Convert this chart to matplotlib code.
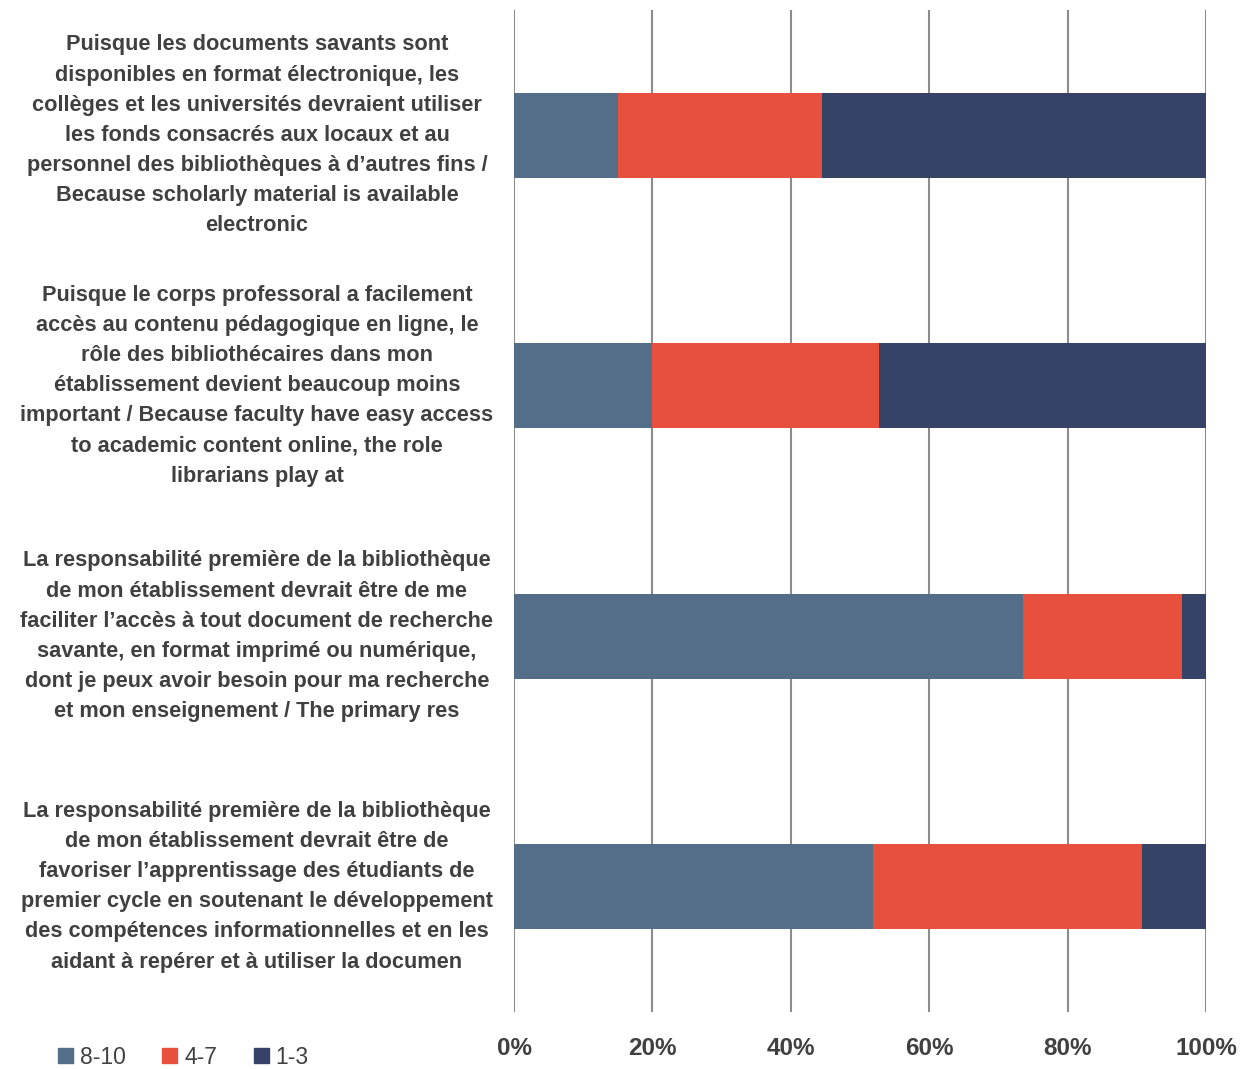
import matplotlib.pyplot as plt
from matplotlib.transforms import blended_transform_factory
from matplotlib.patches import Patch

plt.rcParams['font.family'] = ['Liberation Sans', 'DejaVu Sans']

# Data
categories = [
    "Puisque les documents savants sont\ndisponibles en format électronique, les\ncollèges et les universités devraient utiliser\nles fonds consacrés aux locaux et au\npersonnel des bibliothèques à d’autres fins /\nBecause scholarly material is available\nelectronic",
    "Puisque le corps professoral a facilement\naccès au contenu pédagogique en ligne, le\nrôle des bibliothécaires dans mon\nétablissement devient beaucoup moins\nimportant / Because faculty have easy access\nto academic content online, the role\nlibrarians play at",
    "La responsabilité première de la bibliothèque\nde mon établissement devrait être de me\nfaciliter l’accès à tout document de recherche\nsavante, en format imprimé ou numérique,\ndont je peux avoir besoin pour ma recherche\net mon enseignement / The primary res",
    "La responsabilité première de la bibliothèque\nde mon établissement devrait être de\nfavoriser l’apprentissage des étudiants de\npremier cycle en soutenant le développement\ndes compétences informationnelles et en les\naidant à repérer et à utiliser la documen",
]
series_names = ['8-10', '4-7', '1-3']
high = [15.0, 19.9, 73.6, 51.9]
mid = [29.5, 32.8, 22.9, 38.9]
low = [55.5, 47.3, 3.5, 9.2]
colors = ['#546E8A', '#E8503E', '#364266']
xticks = [0, 20, 40, 60, 80, 100]

fig = plt.figure(figsize=(12.48, 10.69), dpi=100)
ax = fig.add_axes([514 / 1248, 1 - 1012 / 1069, (1206 - 514) / 1248, 1002 / 1069])

y = list(range(len(categories)))
left = [0] * len(y)
for vals, col, name in zip([high, mid, low], colors, series_names):
    ax.barh(y, vals, left=left, height=0.34, color=col, label=name, zorder=3)
    left = [a + b for a, b in zip(left, vals)]

ax.set_xlim(0, 100)
ax.set_ylim(3.5, -0.5)
ax.set_xticks(xticks)
ax.set_xticklabels([f"{t}%" for t in xticks], fontsize=17.5, fontweight='bold', color='#404040')
ax.tick_params(axis='x', length=0, pad=18)
ax.set_yticks([])
ax.grid(axis='x', color='#8C8C8C', linewidth=1.5, zorder=0)
for s in ax.spines.values():
    s.set_visible(False)

trans = blended_transform_factory(fig.transFigure, ax.transData)
for i, lab in enumerate(categories):
    ax.text(257 / 1248, i, lab, transform=trans, ha='center', va='center',
            fontsize=15.7, fontweight='bold', color='#404040', linespacing=1.57)

handles = [Patch(color=c, label=n) for c, n in zip(colors, series_names)]
fig.legend(handles=handles, loc='center left', bbox_to_anchor=(58 / 1248, 1 - 1057 / 1069),
           ncol=3, frameon=False, fontsize=16.5, handlelength=0.65, handleheight=0.65,
           handletextpad=0.3, columnspacing=1.6, labelcolor='#404040',
           borderaxespad=0, borderpad=0)

fig.savefig('out.png', dpi=100)
